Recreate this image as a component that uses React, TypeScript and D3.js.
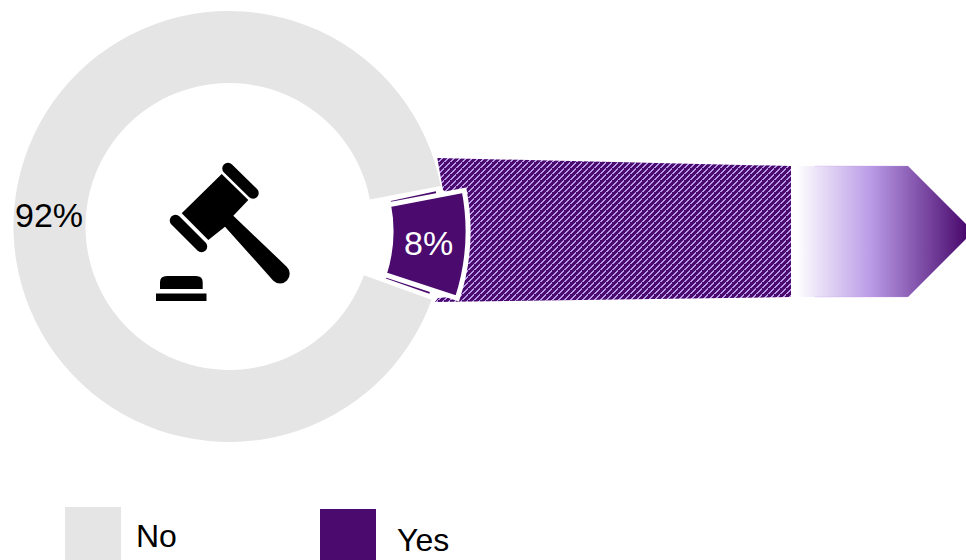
import React from "react";
import * as d3 from "d3";

// Share of answers per category
const categories = ["No", "Yes"];
const shares = [92, 8];
const colors = ["#e5e5e5", "#4a0a6e"];
const stripe = "#b99ae6";
const hatchRows = [0, 1, 2, 3, 4, 5];

const W = 966;
const H = 560;
const cx = 229;
const cy = 226.5;
const outerR = 215.5;
const innerR = 143.5;
const explode = 22;
const pullAngle = 12;
const deg = Math.PI / 180;

const pie = d3
  .pie<number>()
  .sort(null)
  .startAngle(108 * deg)
  .endAngle(468 * deg);

const arcGen = d3
  .arc<d3.PieArcDatum<number>>()
  .innerRadius(innerR)
  .outerRadius(outerR);

// The pulled-out slice runs a little past the ring on both edges
const yesArc = d3
  .arc<d3.PieArcDatum<number>>()
  .innerRadius(innerR - 3)
  .outerRadius(outerR + 2);

// Thin edge that peeks out beside the pulled-out slice
const edgeArc = d3
  .arc<d3.PieArcDatum<number>>()
  .innerRadius(innerR)
  .outerRadius(outerR - 26);

export default function App() {
  const slices = pie(shares);
  const yes = slices[1];
  const no = { ...slices[0], startAngle: slices[0].startAngle + 1.9 * deg };
  const dx = explode * Math.cos(pullAngle * deg);
  const dy = explode * Math.sin(pullAngle * deg);
  const [lx, ly] = arcGen.centroid(yes);
  const wider = { ...yes, startAngle: yes.startAngle - 1.3 * deg, endAngle: yes.endAngle + 1.3 * deg };

  return (
    <svg
      width={W}
      height={H}
      style={{ position: "absolute", left: 0, top: 0, fontFamily: "Liberation Sans, Arial, sans-serif" }}
    >
      <defs>
        <pattern id="hatch" width="6" height="6" patternUnits="userSpaceOnUse">
          <rect width="6" height="6" fill={colors[1]} />
          {hatchRows.map((row) => (
            <rect key={row} x={(5 - row + 6) % 6} y={row} width={row === 0 ? 1 : 2} height={1} fill={stripe} />
          ))}
          <rect x={0} y={5} width={1} height={1} fill={stripe} />
        </pattern>
        <linearGradient id="fade" x1="0" x2="1" y1="0" y2="0">
          <stop offset="0" stopColor="#ffffff" />
          <stop offset="0.03" stopColor="#ffffff" />
          <stop offset="0.46" stopColor={stripe} />
          <stop offset="1" stopColor={colors[1]} />
        </linearGradient>
      </defs>

      {/* Band leading out of the highlighted slice */}
      <path
        d="M437.3,158 L791,166 L791,297 L435,302 L438,298 L450,297 L465,240 L446,192 L443,190 Z"
        fill="url(#hatch)"
      />
      <path d="M791,166 L908,166 L966,224 L966,239 L908,297 L791,297 Z" fill="url(#fade)" />
      <path
        d="M815,166 L908,166 L966,224 M966,239 L908,297 L815,297"
        fill="none"
        stroke={stripe}
        strokeOpacity={0.3}
        strokeWidth={1}
      />

      {/* Ring */}
      <g transform={`translate(${cx},${cy})`}>
        <path d={arcGen(no) ?? ""} fill={colors[0]} />
        <g transform={`translate(${dx},${dy})`}>
          <path d={edgeArc(wider) ?? ""} fill={colors[1]} />
          <path
            d={yesArc(yes) ?? ""}
            fill={colors[1]}
            stroke="#fff"
            strokeWidth={5}
            strokeLinejoin="miter"
          />
          <text x={lx - 1} y={ly + 13} textAnchor="middle" fontSize={34} fill="#fff">
            {shares[1]}%
          </text>
        </g>
      </g>
      <text x={49} y={227} textAnchor="middle" fontSize={34} fill="#000">
        {shares[0]}%
      </text>

      {/* Gavel and sound block */}
      <g fill="#000" stroke="none">
        <path d="M181.7,213.3 L221.7,174 L248.3,200 L233.3,215.7 L286.7,266.7 A9.5,9.5 0 0 1 273.3,280.7 L225,226.7 L208.3,240 Z" />
        <path d="M160,289 L160,282 Q160,276 167,276 L196,276 Q202.7,276 202.7,282 L202.7,289 Z" />
        <rect x={156} y={293.5} width={50.5} height={7.5} />
      </g>
      <g stroke="#000" strokeWidth={11.5} strokeLinecap="round">
        <line x1={228} y1={168.5} x2={253} y2={193} />
        <line x1={175.5} y1={220.5} x2={201.5} y2={246.5} />
      </g>

      {/* Legend */}
      <rect x={65} y={507} width={56} height={53} fill={colors[0]} />
      <text x={136} y={547} fontSize={32} fill="#000">{categories[0]}</text>
      <rect x={320} y={509} width={56} height={51} fill={colors[1]} />
      <text x={397} y={551} fontSize={32} fill="#000">{categories[1]}</text>
    </svg>
  );
}
